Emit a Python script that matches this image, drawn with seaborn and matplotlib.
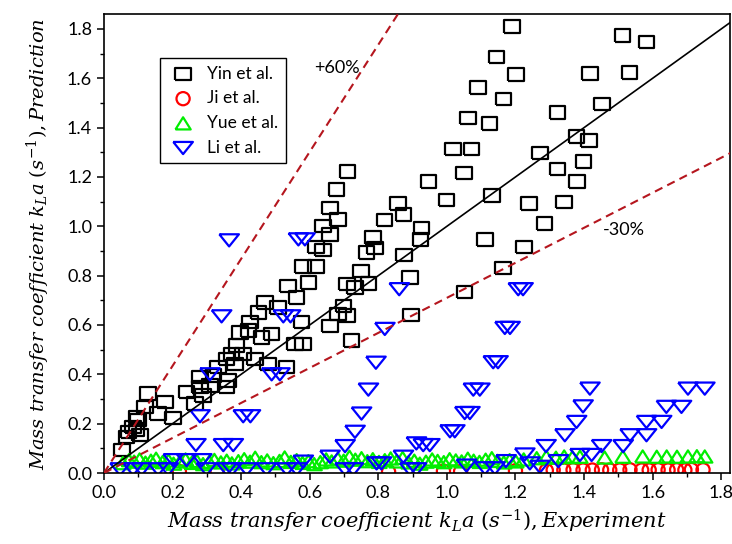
import matplotlib
matplotlib.use("Agg")
import matplotlib.pyplot as plt
from matplotlib.markers import MarkerStyle
from matplotlib.ticker import MultipleLocator, FormatStrFormatter
import seaborn as sns

# ---- data: experiment (x) vs prediction (y), kLa in 1/s ----
yin_x = [1.19, 1.512, 1.582, 1.145, 1.201, 1.418, 1.532, 1.091, 1.165, 1.062, 1.124, 1.322,
         1.452, 1.018, 1.072, 1.271, 1.378, 1.415, 1.398, 1.322, 1.379, 1.050, 0.946, 0.999,
         1.131, 1.239, 1.341, 1.284, 1.111, 1.225, 0.858, 0.873, 0.926, 0.923, 0.818, 0.785,
         0.790, 0.875, 0.892, 1.164, 1.052, 0.895, 0.766,
         0.710, 0.678, 0.659, 0.683, 0.639, 0.659, 0.618, 0.639, 0.581, 0.618, 0.596, 0.537,
         0.562, 0.469, 0.508, 0.450, 0.426, 0.576, 0.421, 0.460, 0.489, 0.397, 0.557, 0.581,
         0.749, 0.708, 0.732, 0.771, 0.698, 0.683, 0.708, 0.659, 0.722,
         0.387, 0.372, 0.406, 0.358, 0.440, 0.382, 0.479, 0.532, 0.333, 0.362, 0.319, 0.280,
         0.309, 0.358, 0.280, 0.241, 0.289, 0.265, 0.129, 0.178, 0.120, 0.158, 0.202, 0.100,
         0.085, 0.095, 0.071, 0.105, 0.066, 0.052, 0.095]
yin_y = [1.81, 1.774, 1.747, 1.687, 1.615, 1.620, 1.624, 1.562, 1.516, 1.438, 1.416, 1.462,
         1.496, 1.313, 1.313, 1.297, 1.364, 1.348, 1.263, 1.232, 1.182, 1.215, 1.181, 1.107,
         1.125, 1.092, 1.098, 1.012, 0.946, 0.917, 1.092, 1.048, 0.994, 0.947, 1.025, 0.954,
         0.913, 0.884, 0.792, 0.830, 0.734, 0.641, 0.893,
         1.223, 1.149, 1.075, 1.028, 1.001, 0.967, 0.916, 0.903, 0.837, 0.837, 0.772, 0.759,
         0.711, 0.691, 0.671, 0.651, 0.611, 0.611, 0.577, 0.550, 0.564, 0.570, 0.523, 0.523,
         0.819, 0.766, 0.752, 0.768, 0.678, 0.644, 0.638, 0.597, 0.537,
         0.517, 0.483, 0.483, 0.463, 0.463, 0.443, 0.443, 0.429, 0.429, 0.375, 0.395, 0.389,
         0.355, 0.348, 0.348, 0.328, 0.315, 0.281, 0.322, 0.288, 0.268, 0.241, 0.223, 0.214,
         0.187, 0.174, 0.167, 0.153, 0.146, 0.093, 0.227]

ji_x = [0.22, 0.33, 0.83, 0.99, 1.04, 1.20, 1.29,
        1.310, 1.341, 1.368, 1.397, 1.424, 1.451, 1.475, 1.504, 1.534, 1.568, 1.590,
        1.616, 1.645, 1.670, 1.694, 1.713, 1.747]
ji_y = [0.006, 0.008, 0.005, 0.008, 0.006, 0.009, 0.010,
        0.012, 0.012, 0.013, 0.012, 0.012, 0.013, 0.012, 0.012, 0.013, 0.012, 0.012,
        0.013, 0.012, 0.013, 0.012, 0.014, 0.013]

yue_x = [0.055, 0.073, 0.088, 0.104, 0.121, 0.137, 0.152, 0.171, 0.188, 0.203, 0.222, 0.238,
         0.256, 0.271, 0.289, 0.307, 0.322, 0.341, 0.358, 0.373, 0.392, 0.409, 0.426, 0.441,
         0.459, 0.476, 0.494, 0.512, 0.527, 0.545, 0.562, 0.579, 0.596, 0.613, 0.631, 0.648,
         0.664, 0.682, 0.699, 0.716, 0.733, 0.751, 0.768, 0.784, 0.802, 0.819, 0.836, 0.853,
         0.871, 0.888, 0.905, 0.921, 0.939, 0.957, 0.973, 0.991, 1.008, 1.026, 1.043, 1.061,
         1.078, 1.095, 1.113, 1.131, 1.148, 1.166, 1.183, 1.201, 1.224,
         1.262, 1.290, 1.318, 1.342, 1.366, 1.388, 1.460, 1.513, 1.571, 1.612, 1.641, 1.671,
         1.703, 1.729, 1.752]
yue_y = [0.040, 0.052, 0.046, 0.055, 0.042, 0.050, 0.058, 0.044, 0.051, 0.038, 0.047, 0.055,
         0.041, 0.049, 0.036, 0.045, 0.053, 0.043, 0.050, 0.039, 0.048, 0.056, 0.046, 0.062,
         0.044, 0.051, 0.040, 0.049, 0.063, 0.045, 0.052, 0.041, 0.048, 0.036, 0.044, 0.055,
         0.047, 0.058, 0.050, 0.066, 0.054, 0.060, 0.048, 0.056, 0.045, 0.052, 0.059, 0.047,
         0.061, 0.043, 0.050, 0.038, 0.046, 0.055, 0.049, 0.044, 0.056, 0.051, 0.047, 0.058,
         0.050, 0.045, 0.054, 0.060, 0.049, 0.043, 0.052, 0.047, 0.055,
         0.060, 0.066, 0.062, 0.067, 0.064, 0.066, 0.063, 0.066, 0.067, 0.066, 0.067, 0.066,
         0.067, 0.068, 0.067]

li_x = [0.365, 0.567, 0.586, 0.343, 0.523, 0.544, 0.309, 0.489, 0.513, 0.861, 0.819, 0.793,
        0.771, 0.751, 0.732, 0.703, 0.659, 0.280, 0.406, 0.427, 0.268, 0.348, 0.377, 0.202,
        0.241, 0.285, 0.581, 0.873, 0.911, 0.795, 0.809,
        1.208, 1.222, 1.169, 1.184, 1.135, 1.149, 1.077, 1.096, 1.052, 1.067, 1.009, 1.023,
        0.931, 0.950, 1.417, 1.397, 1.378, 1.344, 1.289, 1.227, 1.172, 1.388, 1.422, 1.451,
        1.514, 1.534, 1.582, 1.582, 1.626, 1.640, 1.684, 1.703, 1.752, 1.325, 1.057, 1.111,
        1.140, 1.242, 1.271, 0.911,
        0.047, 0.085, 0.110, 0.158, 0.187, 0.299, 0.358, 0.373, 0.416, 0.474, 0.533, 0.562,
        0.703, 0.727, 0.892]
li_y = [0.943, 0.947, 0.947, 0.635, 0.635, 0.635, 0.400, 0.400, 0.400, 0.745, 0.584, 0.447,
        0.338, 0.241, 0.167, 0.109, 0.066, 0.230, 0.230, 0.230, 0.113, 0.113, 0.113, 0.052,
        0.052, 0.052, 0.046, 0.066, 0.120, 0.039, 0.039,
        0.745, 0.745, 0.588, 0.588, 0.449, 0.449, 0.338, 0.338, 0.243, 0.243, 0.169, 0.169,
        0.113, 0.113, 0.342, 0.270, 0.207, 0.153, 0.109, 0.075, 0.048, 0.073, 0.073, 0.109,
        0.109, 0.153, 0.153, 0.207, 0.207, 0.268, 0.268, 0.342, 0.342, 0.048, 0.030, 0.019,
        0.019, 0.039, 0.025, 0.015,
        0.015, 0.015, 0.015, 0.015, 0.015, 0.015, 0.015, 0.015, 0.015, 0.015, 0.015, 0.015,
        0.015, 0.015, 0.015]

series_labels = ["Yin et al.", "Ji et al.", "Yue et al.", "Li et al."]
series_colors = ["black", "#ff0000", "#00ee00", "#0000ff"]

# reference lines: parity and deviation bounds
ref_x = [0.0, 1.9]
upper_factor = 2.17
lower_factor = 0.71

sns.set_style("ticks")
plt.rcParams["font.family"] = ["Lato", "DejaVu Sans"]
plt.rcParams["text.color"] = "black"
plt.rcParams["axes.labelcolor"] = "black"
plt.rcParams["xtick.color"] = "black"
plt.rcParams["ytick.color"] = "black"
plt.rcParams["mathtext.fontset"] = "custom"
plt.rcParams["mathtext.it"] = "DejaVu Serif:italic"
plt.rcParams["mathtext.rm"] = "DejaVu Serif"
plt.rcParams["mathtext.cal"] = "DejaVu Serif:italic"

fig = plt.figure(figsize=(7.32, 5.44), dpi=100)
ax = fig.add_axes([0.142, 0.1305, 0.855, 0.8435])

# hollow marker shapes (slightly flattened)
rect_marker = MarkerStyle([(-1.25, -1), (1.25, -1), (1.25, 1), (-1.25, 1), (-1.25, -1)])
down_marker = MarkerStyle([(-1, 0.62), (1, 0.62), (0, -0.62), (-1, 0.62)])
up_marker = MarkerStyle([(-1, -0.8), (1, -0.8), (0, 0.8), (-1, -0.8)])

common = dict(ax=ax, facecolor="none", linewidth=1.6, legend=False)
sns.scatterplot(x=yin_x, y=yin_y, marker=rect_marker, s=125, edgecolor=series_colors[0],
                label=series_labels[0], **common)
sns.scatterplot(x=ji_x, y=ji_y, marker="o", s=90, edgecolor=series_colors[1],
                label=series_labels[1], **common)
sns.scatterplot(x=yue_x, y=yue_y, marker=up_marker, s=120, edgecolor=series_colors[2],
                label=series_labels[2], **common)
sns.scatterplot(x=li_x, y=li_y, marker=down_marker, s=200, edgecolor=series_colors[3],
                label=series_labels[3], **common)

ax.plot(ref_x, ref_x, color="black", lw=1.2, zorder=3)
ax.plot(ref_x, [v * upper_factor for v in ref_x], color="#b5161e", lw=1.5,
        ls=(0, (4, 2.6)), zorder=3)
ax.plot(ref_x, [v * lower_factor for v in ref_x], color="#b5161e", lw=1.5,
        ls=(0, (4, 2.6)), zorder=3)

ax.text(0.68, 1.64, "+60%", fontsize=13, ha="center", va="center")
ax.text(1.516, 0.985, "-30%", fontsize=13, ha="center", va="center")

ax.set_xlim(0, 1.825)
ax.set_ylim(0, 1.86)
ax.xaxis.set_major_locator(MultipleLocator(0.2))
ax.xaxis.set_minor_locator(MultipleLocator(0.1))
ax.yaxis.set_major_locator(MultipleLocator(0.2))
ax.yaxis.set_minor_locator(MultipleLocator(0.1))
ax.xaxis.set_major_formatter(FormatStrFormatter("%.1f"))
ax.yaxis.set_major_formatter(FormatStrFormatter("%.1f"))
ax.tick_params(which="major", direction="out", length=5, width=1.1, labelsize=13,
               colors="black")
ax.tick_params(which="minor", direction="out", length=3, width=1.0, colors="black")
for sp in ax.spines.values():
    sp.set_visible(True)
    sp.set_linewidth(1.2)
    sp.set_color("black")

ax.set_xlabel(r"$Mass\ transfer\ coefficient\ k_La\ (s^{-1}),Experiment$", fontsize=15,
              labelpad=5)
ax.set_ylabel(r"$Mass\ transfer\ coefficient\ k_La\ (s^{-1}),Prediction$", fontsize=14,
              labelpad=11)

leg = ax.legend(loc="upper left", bbox_to_anchor=(0.089, 0.905), borderaxespad=0,
                fontsize=12.5, frameon=True, fancybox=False, edgecolor="black",
                framealpha=1, labelspacing=0.5, handletextpad=0.5, borderpad=0.45,
                handlelength=1.8)
leg.get_frame().set_linewidth(1.0)

fig.savefig("out.png", dpi=100)
